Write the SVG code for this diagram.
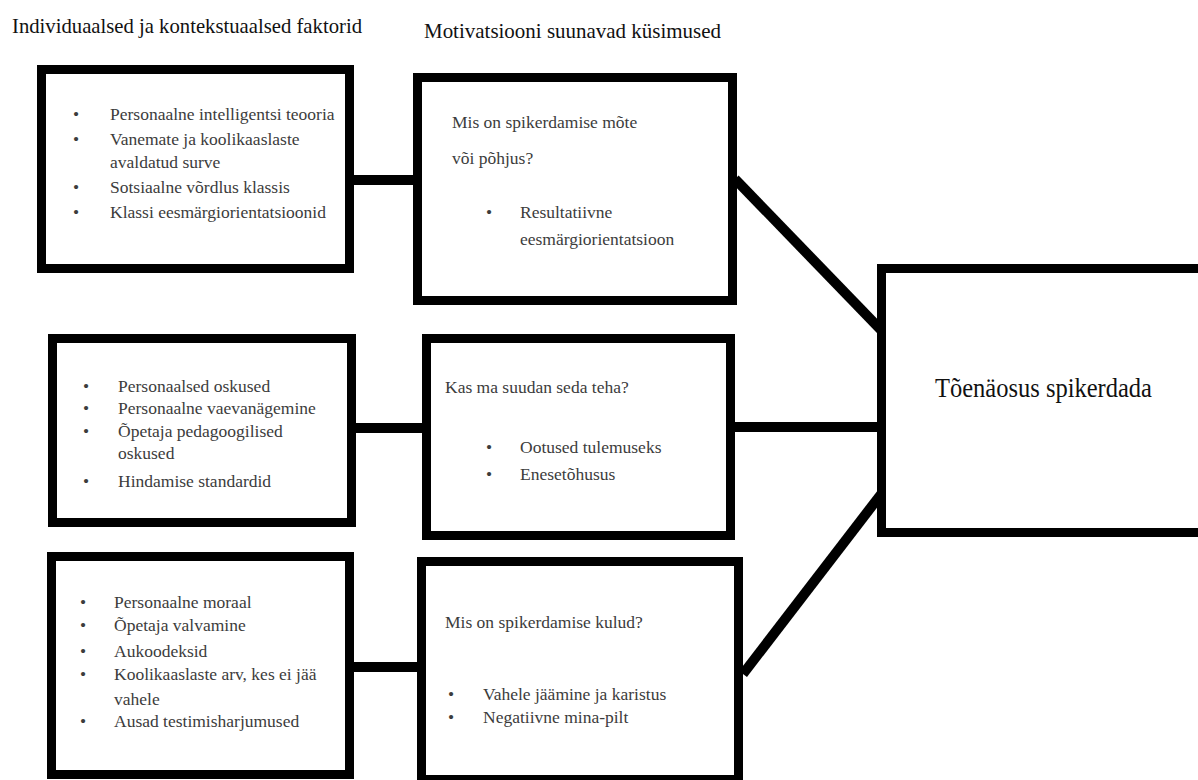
<svg xmlns="http://www.w3.org/2000/svg" width="1198" height="780" viewBox="0 0 1198 780">
<style>
.box{fill:#fff;stroke:#000;stroke-width:9}
.con{stroke:#000;stroke-width:10;fill:none}
.hd{font-family:"Liberation Serif","Times New Roman",serif;font-size:22px;fill:#111}
.tx{font-family:"Liberation Serif","Times New Roman",serif;font-size:17.5px;fill:#3c3c3c}
.big{font-family:"Liberation Serif","Times New Roman",serif;font-size:27px;fill:#111}
</style>
<rect width="1198" height="780" fill="#fff"/>
<g id="headings">
<text class="hd" x="12" y="33" textLength="350" lengthAdjust="spacingAndGlyphs">Individuaalsed ja kontekstuaalsed faktorid</text>
<text class="hd" x="424" y="38" textLength="297" lengthAdjust="spacingAndGlyphs">Motivatsiooni suunavad küsimused</text>
</g>
<g id="connectors">
<line class="con" x1="352" y1="180" x2="416" y2="180"/>
<line class="con" x1="354" y1="428" x2="425" y2="428"/>
<line class="con" x1="733" y1="427" x2="880" y2="427"/>
<line class="con" x1="352" y1="667" x2="420" y2="667"/>
<line class="con" x1="735" y1="179" x2="882" y2="331"/>
<line class="con" x1="743" y1="674" x2="882" y2="493"/>
</g>
<g id="box-individual-1">
<rect class="box" x="41.5" y="69.5" width="308" height="199"/>
<text class="tx" x="73" y="120">•</text><text class="tx" x="110" y="120">Personaalne intelligentsi teooria</text>
<text class="tx" x="73" y="145">•</text><text class="tx" x="110" y="145">Vanemate ja koolikaaslaste</text>
<text class="tx" x="110" y="168">avaldatud surve</text>
<text class="tx" x="73" y="193">•</text><text class="tx" x="110" y="193">Sotsiaalne võrdlus klassis</text>
<text class="tx" x="73" y="218">•</text><text class="tx" x="110" y="218">Klassi eesmärgiorientatsioonid</text>
</g>
<g id="box-question-1">
<rect class="box" x="417.5" y="77.5" width="315" height="223"/>
<text class="tx" x="452" y="128">Mis on spikerdamise mõte</text>
<text class="tx" x="452" y="164">või põhjus?</text>
<text class="tx" x="486" y="218">•</text><text class="tx" x="520" y="218">Resultatiivne</text>
<text class="tx" x="520" y="245">eesmärgiorientatsioon</text>
</g>
<g id="box-individual-2">
<rect class="box" x="52.5" y="338.5" width="299" height="184"/>
<text class="tx" x="83" y="392">•</text><text class="tx" x="118" y="392">Personaalsed oskused</text>
<text class="tx" x="83" y="414">•</text><text class="tx" x="118" y="414">Personaalne vaevanägemine</text>
<text class="tx" x="83" y="437">•</text><text class="tx" x="118" y="437">Õpetaja pedagoogilised</text>
<text class="tx" x="118" y="459">oskused</text>
<text class="tx" x="83" y="487">•</text><text class="tx" x="118" y="487">Hindamise standardid</text>
</g>
<g id="box-question-2">
<rect class="box" x="426.5" y="338.5" width="304" height="197"/>
<text class="tx" x="445" y="393">Kas ma suudan seda teha?</text>
<text class="tx" x="486" y="453">•</text><text class="tx" x="520" y="453">Ootused tulemuseks</text>
<text class="tx" x="486" y="480">•</text><text class="tx" x="520" y="480">Enesetõhusus</text>
</g>
<g id="box-individual-3">
<rect class="box" x="51.5" y="556.5" width="298" height="218"/>
<text class="tx" x="80" y="608">•</text><text class="tx" x="114" y="608">Personaalne moraal</text>
<text class="tx" x="80" y="631">•</text><text class="tx" x="114" y="631">Õpetaja valvamine</text>
<text class="tx" x="80" y="657">•</text><text class="tx" x="114" y="657">Aukoodeksid</text>
<text class="tx" x="80" y="680">•</text><text class="tx" x="114" y="680">Koolikaaslaste arv, kes ei jää</text>
<text class="tx" x="114" y="705">vahele</text>
<text class="tx" x="80" y="727">•</text><text class="tx" x="114" y="727">Ausad testimisharjumused</text>
</g>
<g id="box-question-3">
<rect class="box" x="421.5" y="561.5" width="317" height="218"/>
<text class="tx" x="445" y="628">Mis on spikerdamise kulud?</text>
<text class="tx" x="448" y="700">•</text><text class="tx" x="483" y="700">Vahele jäämine ja karistus</text>
<text class="tx" x="448" y="723">•</text><text class="tx" x="483" y="723">Negatiivne mina-pilt</text>
</g>
<g id="box-outcome">
<rect class="box" x="881.5" y="268.5" width="330" height="264"/>
<text class="big" x="935" y="397" textLength="217" lengthAdjust="spacingAndGlyphs">Tõenäosus spikerdada</text>
</g>
</svg>
